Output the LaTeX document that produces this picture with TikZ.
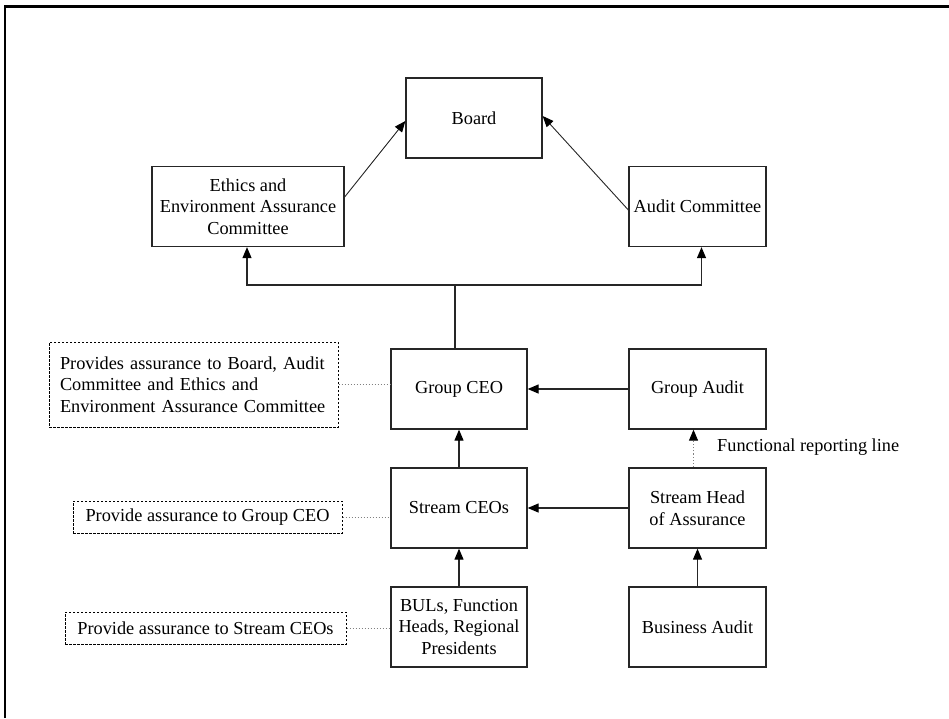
\documentclass[tikz,border=0pt]{standalone}
\usepackage{fontspec}
\setmainfont{Liberation Serif}
\usetikzlibrary{arrows.meta}
\newcommand\fsz{\fontsize{18.3}{21.7}\selectfont}
\begin{document}
\begin{tikzpicture}[x=1pt,y=-1pt,
 box/.style={draw=black!85, line width=1.3pt, minimum width=136pt, minimum height=80pt, inner sep=2pt, align=center, font=\fsz},
 note/.style={draw=black, dash pattern=on 2.5pt off 1.5pt, line width=1pt, inner ysep=0pt, align=center, font=\fsz},
 arr/.style={draw=black!85, line width=1.2pt, -{Triangle[length=11pt,width=9pt,color=black]}},
 link/.style={draw=gray, dotted, line width=1pt},
 frame/.style={line width=2.2pt}
]
\useasboundingbox (0,0) rectangle (949,718);
\draw[frame] (5,718) -- (5,6.5) -- (949,6.5);

\node[box] (board) at (474,118) {Board};
\node[box, minimum width=192pt] (eth) at (248,206.5) {Ethics and\\Environment Assurance\\Committee};
\node[box, minimum width=137pt] (audc) at (697.5,206.5) {Audit Committee};
\node[box] (gceo) at (459,389) {Group CEO};
\node[box, minimum width=137pt] (gaud) at (697.5,389) {Group Audit};
\node[box] (sceo) at (459,508) {Stream CEOs};
\node[box, minimum width=137pt] (sha) at (697.5,508) {Stream Head\\of Assurance};
\node[box] (buls) at (459,627) {BULs, Function\\Heads, Regional\\Presidents};
\node[box, minimum width=137pt] (baud) at (697.5,627) {Business Audit};

\node[note, align=left, text width=267pt, inner xsep=11pt, minimum height=85pt] (n1) at (193.5,384.5)
  {Provides assurance to Board, Audit\\Committee and Ethics and\\Environment Assurance Committee};
\node[note, minimum width=269pt, minimum height=32pt] (n2) at (207.5,517) {Provide assurance to Group CEO};
\node[note, minimum width=281pt, minimum height=32pt] (n3) at (205.5,628) {Provide assurance to Stream CEOs};

\node[font=\fsz, anchor=west, inner sep=0pt] (frl) at (717,447) {Functional reporting line};

% top connectors
\draw[arr, line width=0.9pt] ([yshift=9.5pt]eth.east) -- ([yshift=-3pt]board.west);
\draw[arr, line width=0.9pt] ([yshift=-3.5pt]audc.west) -- ([yshift=2pt]board.east);

\coordinate (bar) at (455,285);
\draw[draw=black!85, line width=1.2pt] ([xshift=-4pt]gceo.north) -- (bar);
\draw[arr] (bar) -| ([xshift=-1pt]eth.south);
\draw[arr] (bar) -| ([xshift=4pt]audc.south);

\draw[arr] (gaud.west) -- (gceo.east);
\draw[arr] (sceo.north) -- (gceo.south);
\draw[arr] (sha.west) -- (sceo.west -| sceo.east);
\draw[arr] (buls.north) -- (sceo.south);
\draw[arr] (baud.north) -- (sha.south);
\draw[arr, draw=gray, dotted, line width=1pt] ([xshift=-4pt]sha.north) -- ([xshift=-4pt]gaud.south);

% dotted links
\draw[link] (n1.east) -- (n1.east -| gceo.west);
\draw[link] (n2.east) -- (n2.east -| sceo.west);
\draw[link] (n3.east) -- (n3.east -| buls.west);
\end{tikzpicture}
\end{document}
